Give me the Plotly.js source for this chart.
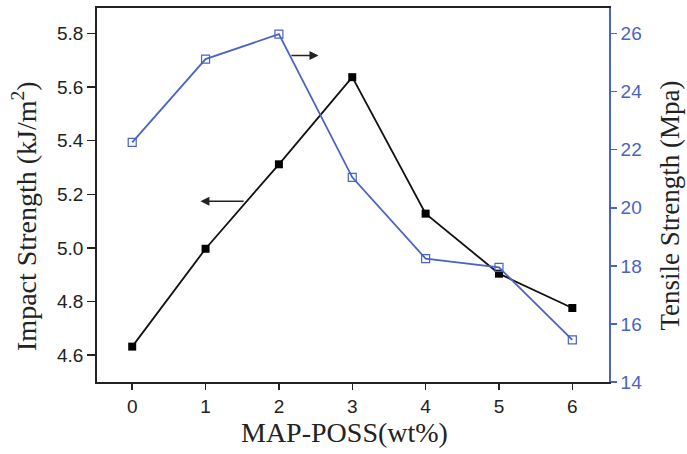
<!DOCTYPE html>
<html>
<head>
<meta charset="utf-8">
<script src="https://cdn.plot.ly/plotly-3.0.1.min.js"></script>
<style>html,body{margin:0;padding:0;background:#fff;}#chart{width:687px;height:454px;}</style>
</head>
<body>
<div id="chart"></div>
<script>
const possContent = [0, 1, 2, 3, 4, 5, 6];
const impactStrength = [4.632, 4.997, 5.312, 5.637, 5.128, 4.904, 4.776];
const tensileStrength = [22.25, 25.12, 25.98, 21.05, 18.25, 17.95, 15.45];
const xTickLabels = ['0', '1', '2', '3', '4', '5', '6'];
const leftTicks = [4.6, 4.8, 5.0, 5.2, 5.4, 5.6, 5.8];
const leftTickLabels = ['4.6', '4.8', '5.0', '5.2', '5.4', '5.6', '5.8'];
const rightTicks = [14, 16, 18, 20, 22, 24, 26];

const blue = '#4a63c6';
const serif = '"Liberation Serif", "Times New Roman", serif';
const traces = [
  {
    x: possContent, y: impactStrength, type: 'scatter', mode: 'lines+markers',
    line: {color: '#111', width: 1.8},
    marker: {symbol: 'square', size: 8, color: '#000'},
    yaxis: 'y', showlegend: false
  },
  {
    x: possContent, y: tensileStrength, type: 'scatter', mode: 'lines+markers',
    line: {color: blue, width: 1.8},
    marker: {symbol: 'square-open', size: 8, color: blue, line: {width: 1.2}},
    yaxis: 'y2', showlegend: false
  }
];

const layout = {
  width: 687, height: 454,
  margin: {l: 97, r: 78, t: 8, b: 72},
  paper_bgcolor: '#fff', plot_bgcolor: '#fff',
  font: {family: '"Liberation Sans", Arial, sans-serif', color: '#222'},
  xaxis: {
    range: [-0.48, 6.5], tickvals: possContent, ticktext: xTickLabels,
    showgrid: false, zeroline: false,
    showline: true, linecolor: '#222', linewidth: 1.8, mirror: true,
    ticks: 'outside', ticklen: 6, tickwidth: 1.5, tickcolor: '#222',
    tickfont: {size: 19, color: '#222'}
  },
  yaxis: {
    range: [4.5, 5.895], tickvals: leftTicks, ticktext: leftTickLabels,
    showgrid: false, zeroline: false,
    showline: true, linecolor: '#222', linewidth: 1.8,
    ticks: 'outside', ticklen: 8, tickwidth: 1.5, tickcolor: '#222',
    tickfont: {size: 19, color: '#222'}
  },
  yaxis2: {
    overlaying: 'y', side: 'right',
    range: [14, 26.88], tickvals: rightTicks,
    showgrid: false, zeroline: false,
    showline: true, linecolor: blue, linewidth: 1.8,
    ticks: 'outside', ticklen: 6, tickwidth: 1.5, tickcolor: blue,
    tickfont: {size: 19, color: blue}
  },
  annotations: [
    {x: 2.54, y: 5.718, ax: 2.15, ay: 5.718, xref: 'x', yref: 'y', axref: 'x', ayref: 'y',
     showarrow: true, arrowhead: 2, arrowsize: 1.2, arrowwidth: 1.5, arrowcolor: '#222', text: ''},
    {x: 0.93, y: 5.174, ax: 1.54, ay: 5.174, xref: 'x', yref: 'y', axref: 'x', ayref: 'y',
     showarrow: true, arrowhead: 2, arrowsize: 1.2, arrowwidth: 1.5, arrowcolor: '#222', text: ''},
    {text: 'Impact Strength (kJ/m<sup>2</sup>)', xref: 'paper', yref: 'paper', x: -0.1406, y: 0.444,
     xanchor: 'center', yanchor: 'middle', textangle: -90, showarrow: false,
     font: {family: serif, size: 28, color: '#222'}},
    {text: 'Tensile Strength (Mpa)', xref: 'paper', yref: 'paper', x: 1.12, y: 0.473,
     xanchor: 'center', yanchor: 'middle', textangle: -90, showarrow: false,
     font: {family: serif, size: 27, color: '#222'}},
    {text: 'MAP-POSS(wt%)', xref: 'paper', yref: 'paper', x: 0.484, y: -0.134,
     xanchor: 'center', yanchor: 'middle', showarrow: false,
     font: {family: serif, size: 28, color: '#222'}}
  ]
};

Plotly.newPlot('chart', traces, layout, {displayModeBar: false, staticPlot: true});
</script>
</body>
</html>
